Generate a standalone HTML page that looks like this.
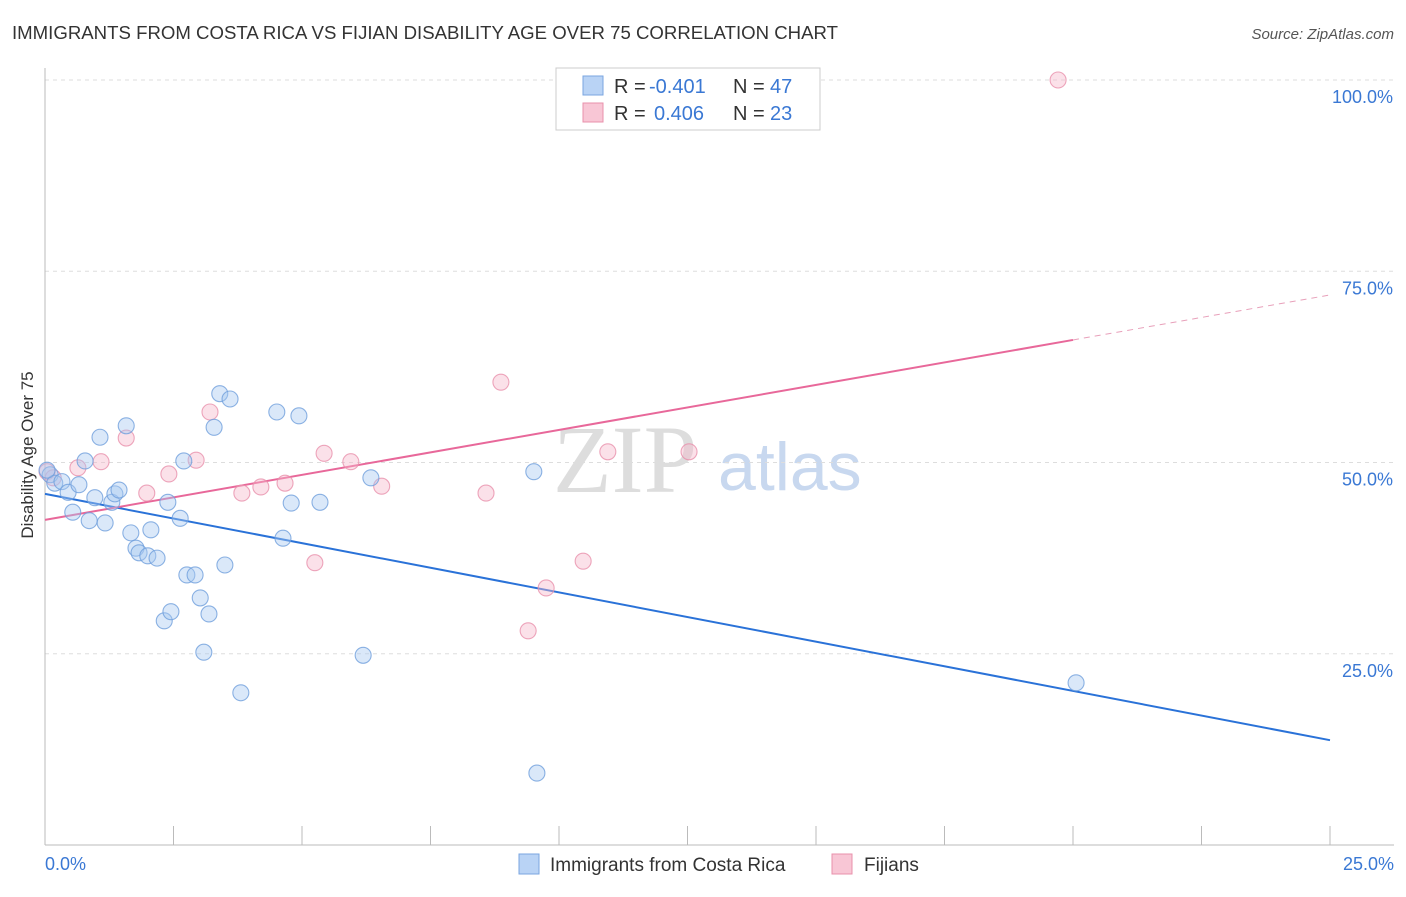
<!DOCTYPE html>
<html><head><meta charset="utf-8"><style>
body{margin:0;background:#fff;font-family:"Liberation Sans",sans-serif;}
svg text{font-family:"Liberation Sans",sans-serif;}
svg text.serif{font-family:"Liberation Serif",serif;}
</style></head><body>
<svg id="chart" width="1406" height="892" xmlns="http://www.w3.org/2000/svg">
<text x="12" y="39" font-size="18.6" fill="#333" textLength="826" lengthAdjust="spacingAndGlyphs">IMMIGRANTS FROM COSTA RICA VS FIJIAN DISABILITY AGE OVER 75 CORRELATION CHART</text>
<text x="1394" y="39" font-size="15" fill="#555" text-anchor="end" font-style="italic">Source: ZipAtlas.com</text>
<text class="serif" x="553" y="492" font-size="96" fill="#ddd">ZIP</text>
<text x="718" y="490" font-size="68" fill="#c8d8ef">atlas</text>
<text transform="translate(33,455) rotate(-90)" font-size="17" fill="#333" text-anchor="middle">Disability Age Over 75</text>
<g id="grid"></g><g id="axes"></g><g id="lines"></g><g id="points"></g>
<g>
<rect x="556" y="68" width="264" height="62" fill="#fff" stroke="#ccc"/>
<rect x="583" y="76" width="20" height="19" fill="#b9d3f5" stroke="#7aa6e0"/>
<text x="614" y="93" font-size="20" fill="#333">R =</text>
<text x="649" y="93" font-size="20" fill="#3a78d4">-0.401</text>
<text x="733" y="93" font-size="20" fill="#333">N =</text>
<text x="770" y="93" font-size="20" fill="#3a78d4">47</text>
<rect x="583" y="103" width="20" height="19" fill="#f8c6d5" stroke="#e890ab"/>
<text x="614" y="120" font-size="20" fill="#333">R =</text>
<text x="654" y="120" font-size="20" fill="#3a78d4">0.406</text>
<text x="733" y="120" font-size="20" fill="#333">N =</text>
<text x="770" y="120" font-size="20" fill="#3a78d4">23</text>
</g>
<g>
<rect x="519" y="854" width="20" height="20" fill="#b9d3f5" stroke="#7aa6e0"/>
<text x="550" y="871" font-size="19" fill="#333">Immigrants from Costa Rica</text>
<rect x="832" y="854" width="20" height="20" fill="#f8c6d5" stroke="#e890ab"/>
<text x="864" y="871" font-size="19" fill="#333">Fijians</text>
</g>
</svg>
<script>
const blueX=[0.1,0.19,0.33,0.45,0.66,0.54,0.78,0.86,0.97,1.07,1.17,1.3,1.36,1.44,1.58,1.67,1.77,1.83,2.0,2.06,2.18,2.32,2.39,2.45,2.63,2.7,2.76,2.92,3.02,3.09,3.19,3.29,3.4,3.5,3.6,3.81,4.63,4.51,4.79,4.94,5.35,6.19,6.34,9.51,9.57,20.06,0.04];
const blueY=[48.4,47.3,47.5,46.1,47.1,43.5,50.2,42.4,45.4,53.3,42.1,44.8,45.9,46.4,54.8,40.8,38.8,38.2,37.8,41.2,37.5,29.3,44.8,30.5,42.7,50.2,35.3,35.3,32.3,25.2,30.2,54.6,59.0,36.6,58.3,19.9,40.1,56.6,44.7,56.1,44.8,24.8,48.0,48.8,9.4,21.2,49.0];
const pinkX=[0.04,0.16,0.64,1.09,1.58,1.98,2.41,2.94,3.21,3.83,4.2,4.67,5.25,5.43,5.95,6.55,8.58,8.87,9.4,9.75,10.47,10.95,12.53,19.71];
const pinkY=[48.8,48.0,49.3,50.1,53.2,46.0,48.5,50.3,56.6,46.0,46.8,47.3,36.9,51.2,50.1,46.9,46.0,60.5,28.0,33.6,37.1,51.4,51.4,100];
const blueTrend=[45.9,13.7];
const pinkTrend=[42.5,71.9];
const yTicks=[25,50,75,100];
const yTickLabels=["25.0%","50.0%","75.0%","100.0%"];
const xTickCount=10;
const xs=v=>45+v/25*1285, ys=v=>845-v*7.65;
const NS="http://www.w3.org/2000/svg";
function mk(t,a,p){const e=document.createElementNS(NS,t);for(const k in a)e.setAttribute(k,a[k]);p.appendChild(e);return e;}
const grid=document.getElementById('grid'),axes=document.getElementById('axes'),lines=document.getElementById('lines'),pts=document.getElementById('points');
yTicks.forEach((v,i)=>{
 const l=mk('line',{x1:45,x2:1394,y1:ys(v),y2:ys(v),stroke:'#ddd','stroke-dasharray':'4,4'},grid);
 
 
 const t=mk('text',{x:1393,y:ys(v)+23,'font-size':18,fill:'#3a78d4','text-anchor':'end'},axes);
 t.textContent=yTickLabels[i];
 
 
});
const ax=mk('line',{x1:45,x2:1394,y1:845,y2:845,stroke:'#bbb'},axes);


const ay=mk('line',{x1:45,x2:45,y1:68,y2:845,stroke:'#bbb'},axes);


for(let i=1;i<=xTickCount;i++){
 const tk=mk('line',{x1:xs(i*2.5),x2:xs(i*2.5),y1:826,y2:845,stroke:'#bbb'},axes);
 
 
}
const x0=mk('text',{x:45,y:870,'font-size':18,fill:'#3a78d4'},axes);x0.textContent='0.0%';


const x1=mk('text',{x:1394,y:870,'font-size':18,fill:'#3a78d4','text-anchor':'end'},axes);x1.textContent='25.0%';


function dot(x,y,f,s,n){const c=mk('circle',{cx:xs(x),cy:ys(y),r:8,fill:f,'fill-opacity':0.42,stroke:s,'stroke-opacity':0.8,'stroke-width':1.1},pts);
 
 }
pinkX.forEach((x,i)=>dot(x,pinkY[i],'#f5b8cb','#e890ab','fijian-point'));
blueX.forEach((x,i)=>dot(x,blueY[i],'#a8c8f0','#6f9fdc','costa-rica-point'));
const bl=mk('line',{x1:xs(0),y1:ys(blueTrend[0]),x2:xs(25),y2:ys(blueTrend[1]),stroke:'#2a72d8','stroke-width':2},lines);


const pe=20, py=pinkTrend[0]+(pinkTrend[1]-pinkTrend[0])*pe/25;
const pl=mk('line',{x1:xs(0),y1:ys(pinkTrend[0]),x2:xs(pe),y2:ys(py),stroke:'#e8689a','stroke-width':2},lines);


const pd=mk('line',{x1:xs(pe),y1:ys(py),x2:xs(25),y2:ys(pinkTrend[1]),stroke:'#e8a0ba','stroke-width':1,'stroke-dasharray':'6,5'},lines);


</script>
</body></html>
